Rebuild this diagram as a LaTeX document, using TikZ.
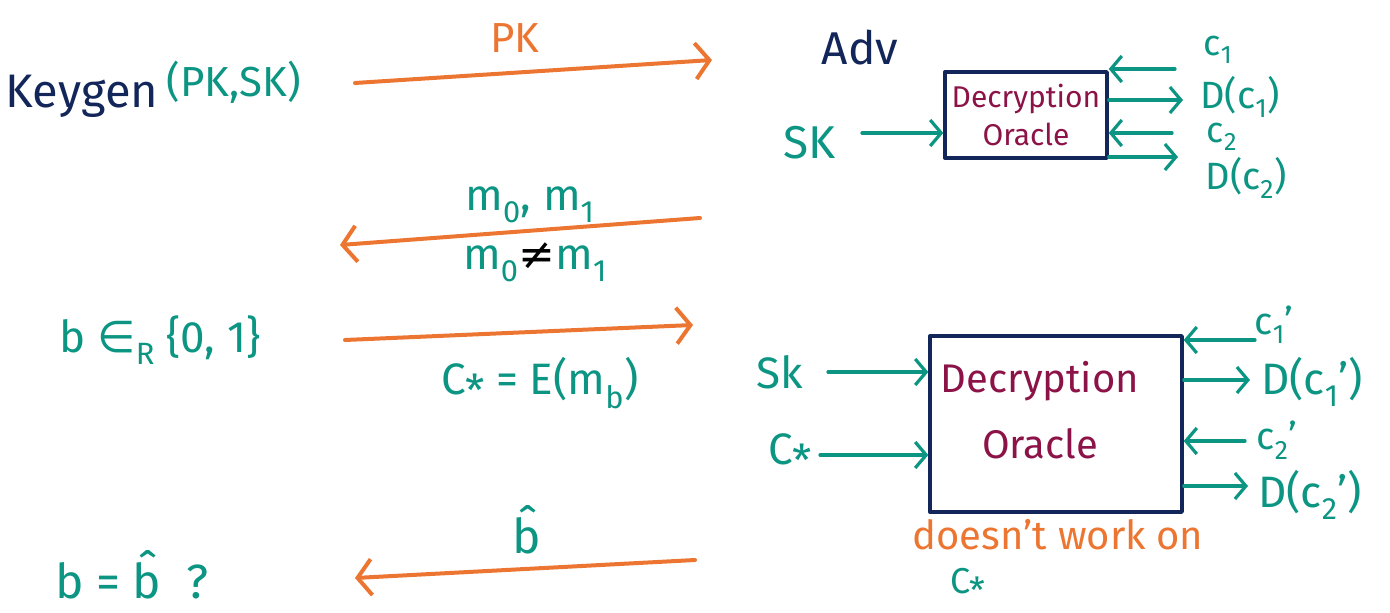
\documentclass[tikz,border=0pt]{standalone}
\usepackage{fontspec}
\setmainfont{Fira Sans}
\newfontfamily\symbolfont{DejaVu Sans}
\usetikzlibrary{arrows.meta}
\definecolor{ink}{HTML}{13265A}
\definecolor{pen}{HTML}{0B9582}
\definecolor{marker}{HTML}{EC7631}
\definecolor{wine}{HTML}{8C1347}
% ciphertext C with a lowered star
\newcommand\cstar{C\kern-0.02em\raisebox{-0.28em}{*}}
\newcommand\fs[1]{\fontsize{#1}{#1}\selectfont}
\begin{document}
\begin{tikzpicture}[x=1pt, y=-1pt, line cap=round, line join=round,
  msg/.style={draw=marker, line width=4pt,
    -{Straight Barb[length=14pt,width=36pt]}},
  feed/.style={draw=pen, line width=3.2pt,
    -{Straight Barb[length=11pt,width=26pt]}},
  lbl/.style={text=pen, inner sep=0pt},
  party/.style={text=ink, inner sep=0pt},
  oracle/.style={draw=ink, line width=3.4pt, text=wine, align=center, inner sep=0pt},
]
\useasboundingbox (0,0) rectangle (1390,613);

% ---------------- challenger side ----------------
\node[party, font=\fs{47}] (keygen) at (82,96) {Keygen};
\node[lbl, font=\fs{42}] (keys) at (234,82) {(PK,SK)};
\node[lbl, font=\fs{44}] (bit) at (160,340) {b {\symbolfont∈}\textsubscript{R} \{0, 1\}};
\node[lbl, font=\fs{48}] (guess) at (132,575) {b = \^{b} \ ?};

% ---------------- adversary side ----------------
\node[party, font=\fs{46}] (adv) at (860,48) {Adv};

% ---------------- messages ----------------
\coordinate (pkL) at (355,83);
\coordinate (pkR) at (712,60);
\draw[msg] (pkL) -- (pkR);
\node[text=marker, inner sep=0pt, font=\fs{42}] (pk) at (515,38) {PK};

\coordinate (mR) at (700,218);
\coordinate (mL) at (340,245);
\draw[msg] (mR) -- (mL);
\node[lbl, font=\fs{44}] (msgs) at (530,205) {m\textsubscript{0}, m\textsubscript{1}};
\node[lbl, font=\fs{44}] (neq) at (535,262) {m\textsubscript{0}{\color{black}\symbolfont≠}m\textsubscript{1}};

\coordinate (cL) at (345,340);
\coordinate (cR) at (693,325);
\draw[msg] (cL) -- (cR);
\node[lbl, font=\fs{44}] (chal) at (540,383) {\cstar\ = E(m\textsubscript{b})};

\coordinate (bR) at (695,560);
\coordinate (bL) at (355,578);
\draw[msg] (bR) -- (bL);
\node[lbl, font=\fs{48}] (bhat) at (527,530) {\^{b}};

% ---------------- first decryption oracle ----------------
\node[oracle, minimum width=162pt, minimum height=86pt, font=\fontsize{30}{38}\selectfont]
  (oa) at (1026,115) {Decryption\\Oracle};
\node[lbl, font=\fs{46}] (ska) at (810,143) {SK};
\coordinate (skaS) at (862,133);
\draw[feed] (skaS) -- (oa.west |- skaS);

\node[lbl, font=\fs{36}] (c1) at (1218,50) {c\textsubscript{1}};
\node[lbl, font=\fs{38}] (d1) at (1240,97) {D(c\textsubscript{1})};
\node[lbl, font=\fs{36}] (c2) at (1222,137) {c\textsubscript{2}};
\node[lbl, font=\fs{38}] (d2) at (1246,178) {D(c\textsubscript{2})};
\coordinate (c1S) at (1175,69);
\coordinate (d1E) at (1183,100);
\coordinate (c2S) at (1172,133);
\coordinate (d2E) at (1178,157);
\draw[feed] (c1S) -- (oa.east |- c1S);
\draw[feed] (oa.east |- d1E) -- (d1E);
\draw[feed] (c2S) -- (oa.east |- c2S);
\draw[feed] (oa.east |- d2E) -- (d2E);

% ---------------- second decryption oracle ----------------
\node[oracle, minimum width=252pt, minimum height=176pt] (ob) at (1056,424) {};
\node[text=wine, inner sep=0pt, align=center, font=\fontsize{40}{66}\selectfont]
  (obtext) at (1040,410) {Decryption\\Oracle};
\node[lbl, font=\fs{44}] (skb) at (780,372) {Sk};
\node[lbl, font=\fs{44}] (cst) at (790,455) {\cstar};
\coordinate (skbS) at (828,372);
\coordinate (cstS) at (820,455);
\draw[feed] (skbS) -- (ob.west |- skbS);
\draw[feed] (cstS) -- (ob.west |- cstS);

\node[lbl, font=\fs{38}] (c1p) at (1274,325) {c\textsubscript{1}’};
\node[lbl, font=\fs{44}] (d1p) at (1312,382) {D(c\textsubscript{1}’)};
\node[lbl, font=\fs{38}] (c2p) at (1277,440) {c\textsubscript{2}’};
\node[lbl, font=\fs{44}] (d2p) at (1310,495) {D(c\textsubscript{2}’)};
\coordinate (c1pS) at (1255,340);
\coordinate (d1pE) at (1250,380);
\coordinate (c2pS) at (1245,441);
\coordinate (d2pE) at (1248,486);
\draw[feed] (c1pS) -- (ob.east |- c1pS);
\draw[feed] (ob.east |- d1pE) -- (d1pE);
\draw[feed] (c2pS) -- (ob.east |- c2pS);
\draw[feed] (ob.east |- d2pE) -- (d2pE);

\node[text=marker, inner sep=0pt, font=\fs{40}] (note) at (1058,535) {doesn't work on};
\node[lbl, font=\fs{36}] (notec) at (968,586) {\cstar};
\end{tikzpicture}
\end{document}
